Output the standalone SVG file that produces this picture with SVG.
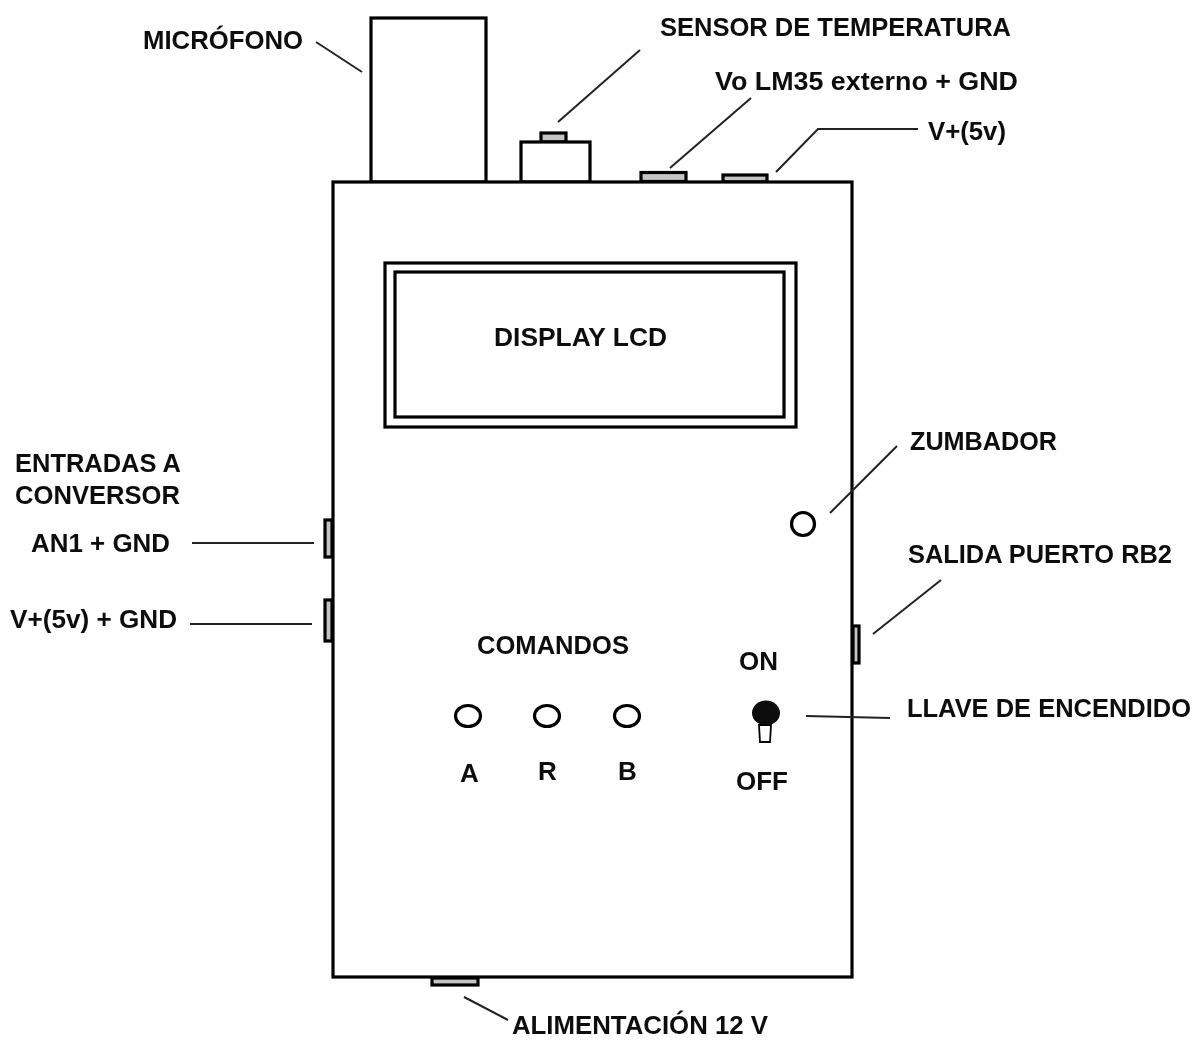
<svg xmlns="http://www.w3.org/2000/svg" width="1202" height="1040" viewBox="0 0 1202 1040">
<style>
.s{fill:#fff;stroke:#000;stroke-width:3.2}
.c{fill:#c4c4c4;stroke:#000;stroke-width:3.2}
.l{fill:none;stroke:#222;stroke-width:2}
text{font-family:"Liberation Sans",Arial,sans-serif;font-size:26px;font-weight:700;fill:#111}
</style>
<defs><filter id="b" x="-2%" y="-2%" width="104%" height="104%"><feGaussianBlur stdDeviation="0.45"/></filter></defs>
<rect width="1202" height="1040" fill="#fff"/>
<g filter="url(#b)">
<g id="microfono"><rect class="s" x="371" y="18" width="115" height="164"/></g>
<g id="sensor"><rect class="c" x="541" y="133" width="25" height="9"/><rect class="s" x="521" y="142" width="69" height="40"/></g>
<g id="conector-lm35"><rect class="c" x="641" y="172.500" width="45" height="9"/></g>
<g id="conector-5v"><rect class="c" x="723" y="175" width="44" height="7"/></g>
<g id="caja"><rect class="s" x="333" y="182" width="519" height="795"/></g>
<g id="display"><rect class="s" x="385" y="263" width="411" height="164"/><rect class="s" x="395" y="272" width="389" height="145"/><text x="494" y="346" textLength="173" lengthAdjust="spacingAndGlyphs">DISPLAY LCD</text></g>
<g id="zumbador"><circle class="s" cx="803" cy="524" r="11.500"/></g>
<g id="conector-an1"><rect class="c" x="325" y="520" width="7" height="37"/></g>
<g id="conector-v5-gnd"><rect class="c" x="325" y="600" width="7" height="41"/></g>
<g id="conector-rb2"><rect class="c" x="853" y="626" width="6" height="37"/></g>
<g id="boton-a"><ellipse class="s" cx="468" cy="716" rx="12.500" ry="10.500"/></g>
<g id="boton-r"><ellipse class="s" cx="547" cy="716" rx="12.500" ry="10.500"/></g>
<g id="boton-b"><ellipse class="s" cx="627" cy="716" rx="12.500" ry="10.500"/></g>
<g id="llave"><path d="M759 725L771 725L770 742L760 742Z" fill="#fff" stroke="#000" stroke-width="1.800"/><ellipse cx="766" cy="713" rx="14" ry="12.500" fill="#0a0a0a"/></g>
<g id="conector-12v"><rect class="c" x="432" y="978" width="46" height="7"/></g>
<g id="conectores">
<path class="l" d="M316 42L362 72"/>
<path class="l" d="M640 50L558 122"/>
<path class="l" d="M751 98L670 168"/>
<path class="l" d="M918 129H818L776 172"/>
<path class="l" d="M897 446L830 513"/>
<path class="l" d="M192 543H314"/>
<path class="l" d="M190 624H312"/>
<path class="l" d="M941 580L873 634"/>
<path class="l" d="M806 716L890 718"/>
<path class="l" d="M464 997L508 1020"/>
</g>
<g id="etiquetas">
<text x="143" y="49" textLength="160" lengthAdjust="spacingAndGlyphs">MICRÓFONO</text>
<text x="660" y="36" textLength="351" lengthAdjust="spacingAndGlyphs">SENSOR DE TEMPERATURA</text>
<text x="715" y="90" textLength="303" lengthAdjust="spacingAndGlyphs">Vo LM35 externo + GND</text>
<text x="928" y="140" textLength="78" lengthAdjust="spacingAndGlyphs">V+(5v)</text>
<text x="910" y="450" textLength="147" lengthAdjust="spacingAndGlyphs">ZUMBADOR</text>
<text x="908" y="563" textLength="264" lengthAdjust="spacingAndGlyphs">SALIDA PUERTO RB2</text>
<text x="15" y="472" textLength="166" lengthAdjust="spacingAndGlyphs">ENTRADAS A</text>
<text x="15" y="504" textLength="165" lengthAdjust="spacingAndGlyphs">CONVERSOR</text>
<text x="31" y="552" textLength="139" lengthAdjust="spacingAndGlyphs">AN1 + GND</text>
<text x="10" y="628" textLength="167" lengthAdjust="spacingAndGlyphs">V+(5v) + GND</text>
<text x="477" y="654" textLength="152" lengthAdjust="spacingAndGlyphs">COMANDOS</text>
<text x="739" y="670" textLength="39" lengthAdjust="spacingAndGlyphs">ON</text>
<text x="460" y="782">A</text>
<text x="538" y="780">R</text>
<text x="618" y="780">B</text>
<text x="736" y="790" textLength="52" lengthAdjust="spacingAndGlyphs">OFF</text>
<text x="907" y="717" textLength="284" lengthAdjust="spacingAndGlyphs">LLAVE DE ENCENDIDO</text>
<text x="512" y="1034" textLength="256" lengthAdjust="spacingAndGlyphs">ALIMENTACIÓN 12 V</text>
</g>
</g>
</svg>
